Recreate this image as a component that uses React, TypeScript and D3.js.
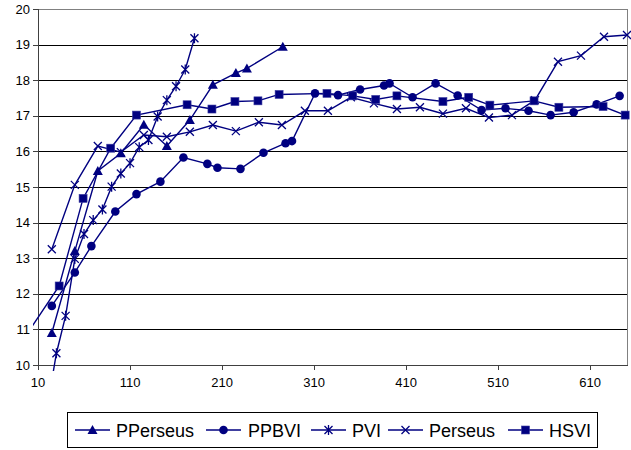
import React from 'react';
import * as d3 from 'd3';

// chart values
const yTicks = [10, 11, 12, 13, 14, 15, 16, 17, 18, 19, 20];
const xTicks = [10, 110, 210, 310, 410, 510, 610];

const pperseusX = [25, 50, 75, 100, 125, 150, 175, 200, 225, 237, 276];
const pperseusY = [10.9, 13.2, 15.45, 15.95, 16.75, 16.15, 16.88, 17.87, 18.2, 18.33, 18.94];

const ppbviX = [25, 50, 68, 94, 117, 143, 168, 194, 205, 230, 255, 279, 286, 311, 336, 360, 386, 392, 417, 442, 466, 492, 518, 543, 567, 592, 617, 642];
const ppbviY = [11.66, 12.6, 13.34, 14.31, 14.8, 15.15, 15.83, 15.65, 15.54, 15.51, 15.96, 16.23, 16.29, 17.63, 17.58, 17.74, 17.85, 17.91, 17.52, 17.91, 17.57, 17.16, 17.21, 17.14, 17.02, 17.1, 17.32, 17.56];

const pviX = [20, 30, 40, 50, 60, 70, 80, 90, 100, 110, 120, 130, 140, 150, 160, 170, 180];
const pviY = [8.8, 10.33, 11.38, 12.98, 13.68, 14.07, 14.37, 15.01, 15.38, 15.67, 16.12, 16.32, 16.98, 17.44, 17.83, 18.3, 19.18];

const perseusX = [25, 50, 75, 100, 125, 150, 175, 200, 225, 250, 275, 300, 325, 350, 375, 400, 425, 450, 475, 500, 525, 550, 575, 600, 625, 650];
const perseusY = [13.25, 15.06, 16.15, 15.98, 16.46, 16.41, 16.55, 16.74, 16.57, 16.82, 16.74, 17.14, 17.14, 17.52, 17.35, 17.19, 17.24, 17.06, 17.21, 16.95, 17.02, 17.44, 18.52, 18.69, 19.22, 19.27];

const hsviX = [0, 33, 59, 89, 117, 172, 199, 224, 249, 272, 324, 352, 377, 400, 450, 478, 501, 549, 576, 624, 648];
const hsviY = [10.95, 12.22, 14.68, 16.09, 17.02, 17.31, 17.19, 17.4, 17.42, 17.6, 17.63, 17.56, 17.46, 17.56, 17.4, 17.52, 17.3, 17.42, 17.24, 17.26, 17.02];

const seriesNames = ['PPerseus', 'PPBVI', 'PVI', 'Perseus', 'HSVI'];
const seriesMarkers = ['triangle', 'circle', 'asterisk', 'x', 'square'];

const NAVY = '#000080';
const FONT = '"Liberation Sans", Arial, sans-serif';

const W = 631;
const H = 450;
const left = 38;
const right = 627;
const top = 9;
const bottom = 365;

const xScale = d3.scaleLinear().domain([10, 650]).range([left, right]);
const yScale = d3.scaleLinear().domain([10, 20]).range([bottom, top]);

// one marker, centred on 0,0
const Marker = ({ kind, x, y }: { kind: string; x: number; y: number }) => {
  const t = `translate(${x},${y})`;
  if (kind === 'triangle') {
    return <path transform={t} d="M0,-5L5,4L-5,4Z" fill={NAVY} />;
  }
  if (kind === 'circle') {
    return <circle cx={x} cy={y} r={4.3} fill={NAVY} />;
  }
  if (kind === 'square') {
    return <rect x={x - 4} y={y - 4} width={8} height={8} fill={NAVY} stroke="#3a3aa0" strokeWidth={0.6} />;
  }
  if (kind === 'x') {
    return <path transform={t} d="M-4,-4L4,4M-4,4L4,-4" stroke={NAVY} strokeWidth={1.3} fill="none" />;
  }
  // asterisk
  return <path transform={t} d="M-4,-4L4,4M-4,4L4,-4M0,-5L0,5" stroke={NAVY} strokeWidth={1.3} fill="none" />;
};

const App = () => {
  const allX = [pperseusX, ppbviX, pviX, perseusX, hsviX];
  const allY = [pperseusY, ppbviY, pviY, perseusY, hsviY];

  const line = d3
    .line<[number, number]>()
    .x((d) => xScale(d[0]))
    .y((d) => yScale(d[1]));

  const series = seriesNames.map((name, i) => ({
    name,
    marker: seriesMarkers[i],
    pts: allX[i].map((x, j) => [x, allY[i][j]] as [number, number]),
  }));

  const inside = (p: [number, number]) => p[0] >= 10 && p[0] <= 650 && p[1] >= 10 && p[1] <= 20;

  // legend layout
  const legendItems = [
    { lx: 75, tx: 116 },
    { lx: 206, tx: 248 },
    { lx: 311, tx: 352 },
    { lx: 388, tx: 429 },
    { lx: 508, tx: 549 },
  ];

  return (
    <svg width={W} height={H} style={{ position: 'absolute', left: 0, top: 0, background: '#fff' }}>
      <defs>
        <clipPath id="plotClip">
          <rect x={left - 5} y={top - 5} width={right - left + 10} height={bottom - top + 11} />
        </clipPath>
      </defs>

      {/* gridlines */}
      {yTicks.slice(1, -1).map((v) => (
        <line key={v} x1={left} x2={right} y1={Math.round(yScale(v)) + 0.5} y2={Math.round(yScale(v)) + 0.5} stroke="#000" strokeWidth={1} />
      ))}
      {/* plot border top/right */}
      <line x1={left} x2={right + 0.5} y1={top + 0.5} y2={top + 0.5} stroke="#808080" />
      <line x1={right + 0.5} x2={right + 0.5} y1={top} y2={bottom} stroke="#808080" />

      {/* axes */}
      <line x1={left + 0.5} x2={left + 0.5} y1={top} y2={bottom + 5} stroke="#404040" />
      <line x1={left - 5} x2={right + 1} y1={bottom + 0.5} y2={bottom + 0.5} stroke="#404040" />
      {yTicks.map((v) => (
        <g key={v}>
          <line x1={left - 5} x2={left} y1={Math.round(yScale(v)) + 0.5} y2={Math.round(yScale(v)) + 0.5} stroke="#404040" />
          <text x={left - 8} y={yScale(v) + 4.5} textAnchor="end" fontFamily={FONT} fontSize={13} fill="#000">
            {v}
          </text>
        </g>
      ))}
      {xTicks.map((v) => (
        <g key={v}>
          <line x1={Math.round(xScale(v)) + 0.5} x2={Math.round(xScale(v)) + 0.5} y1={bottom} y2={bottom + 5} stroke="#404040" />
          <text x={xScale(v)} y={bottom + 22} textAnchor="middle" fontFamily={FONT} fontSize={13} fill="#000">
            {v}
          </text>
        </g>
      ))}

      {/* series lines */}
      <g clipPath="url(#plotClip)">
        {series.map((s) => (
          <path key={s.name} d={line(s.pts) || ''} fill="none" stroke={NAVY} strokeWidth={1.4} />
        ))}
      </g>
      {/* markers */}
      {series.map((s) => (
        <g key={s.name + 'm'}>
          {s.pts.filter(inside).map((p, j) => (
            <Marker key={j} kind={s.marker} x={xScale(p[0])} y={yScale(p[1])} />
          ))}
        </g>
      ))}

      {/* legend */}
      <rect x={67.5} y={412.5} width={530} height={35} fill="#fff" stroke="#000" strokeWidth={1} />
      {series.map((s, i) => (
        <g key={s.name + 'l'}>
          <line x1={legendItems[i].lx} x2={legendItems[i].lx + 35} y1={430} y2={430} stroke={NAVY} strokeWidth={1.4} />
          <Marker kind={s.marker} x={legendItems[i].lx + 17.5} y={430} />
          <text x={legendItems[i].tx} y={436.5} fontFamily={FONT} fontSize={18} fill="#000">
            {s.name}
          </text>
        </g>
      ))}
    </svg>
  );
};

export default App;
